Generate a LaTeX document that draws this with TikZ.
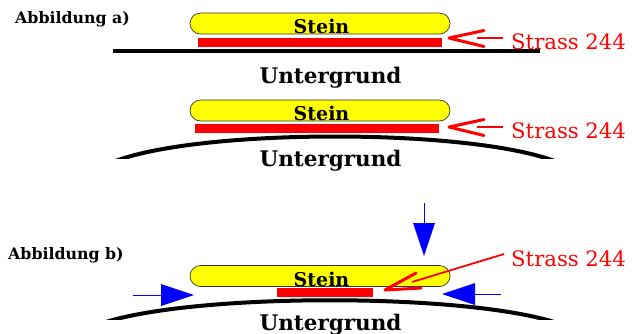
\documentclass[tikz,border=0pt]{standalone}
\usepackage{fontspec}
\setmainfont{DejaVu Serif}
\definecolor{pureyellow}{RGB}{255,255,0}
\definecolor{purered}{RGB}{255,0,0}
\definecolor{pureblue}{RGB}{0,0,255}
\begin{document}
\begin{tikzpicture}[x=1pt,y=-1pt,
  stone/.style={draw=black!80,line width=0.7pt,fill=pureyellow,rounded corners=10.5pt,minimum width=260pt,minimum height=21pt,inner sep=0pt,outer sep=0pt},
  strassbar/.style={fill=purered,inner sep=0pt,outer sep=0pt,minimum height=9pt},
  steintext/.style={font=\bfseries\fontsize{19}{19}\selectfont,inner sep=0pt,anchor=base},
  ground/.style={font=\bfseries\fontsize{21.5}{21.5}\selectfont,inner sep=0pt,anchor=base},
  figlabel/.style={font=\bfseries\fontsize{15.8}{15.8}\selectfont,inner sep=0pt,anchor=base west},
  strasslabel/.style={font=\fontsize{21.2}{21.2}\selectfont,text=purered,inner sep=0pt,anchor=base west},
  earth/.style={draw=black,line width=4pt},
  pointer/.style={draw=purered,line width=3pt,line cap=round,line join=round},
  thin red/.style={draw=purered,line width=1.8pt},
  force/.style={fill=pureblue,draw=none},
  forceline/.style={draw=pureblue,line width=0.8pt}]
\useasboundingbox (0,0) rectangle (642,333);
% a) flat
\node[figlabel] (la) at (15,23) {Abbildung a)};
\draw[earth] (113,51) coordinate (ga) -- (540,51) coordinate (gb);
\node[stone] (s1) at (320,23.5) {};
\node[strassbar,minimum width=244pt] (r1) at (320,42.5) {};
\node[steintext] (t1) at (321.5,33) {Stein};
\node[ground] (u1) at (330.5,83) {Untergrund};
\node[strasslabel] (l1) at (511,49) {Strass 244};
\coordinate (tip1) at (449,38);
\coordinate (a1) at (484,30.5);
\coordinate (b1) at (484,46.5);
\coordinate (c1) at (477,38);
\coordinate (d1) at (503,38);
\draw[pointer] (a1) -- (tip1) -- (b1);
\draw[thin red] (c1) -- (d1);
% a) curved
\begin{scope}
\clip (90,120) rectangle (580,158);
\draw[earth] (106,165) .. controls (185,127) and (485,127) .. (564,165);
\end{scope}
\node[stone] (s2) at (320,110.5) {};
\node[strassbar,minimum width=244pt] (r2) at (317,128.5) {};
\node[steintext] (t2) at (321.5,120) {Stein};
\node[ground] (u2) at (330.5,166) {Untergrund};
\node[strasslabel] (l2) at (511,138.5) {Strass 244};
\coordinate (tip2) at (449,127);
\coordinate (a2) at (484,119.5);
\coordinate (b2) at (484,135.5);
\coordinate (c2) at (477,127);
\coordinate (d2) at (503,127);
\draw[pointer] (a2) -- (tip2) -- (b2);
\draw[thin red] (c2) -- (d2);
% b)
\node[figlabel] (lb) at (8,259.5) {Abbildung b)};
\begin{scope}
\clip (90,280) rectangle (580,319);
\draw[earth] (97,325) .. controls (185,292) and (475,292) .. (563,325);
\end{scope}
\node[stone] (s3) at (320,276) {};
\node[strassbar,minimum width=96pt] (r3) at (325,292.5) {};
\node[steintext] (t3) at (321.5,286) {Stein};
\node[ground] (u3) at (330.5,330) {Untergrund};
\node[strasslabel] (l3) at (511,266.5) {Strass 244};
\coordinate (tip3) at (385,290);
\coordinate (a3) at (416,273);
\coordinate (b3) at (421,288);
\coordinate (c3) at (412,282);
\coordinate (d3) at (504,254);
\draw[pointer] (a3) -- (tip3) -- (b3);
\draw[thin red] (c3) -- (d3);
% forces
\draw[forceline] (424,203) coordinate (f1) -- (424,223) coordinate (f2);
\fill[force] (413,223) -- (435,223) -- (424,256) -- cycle;
\draw[forceline] (133,295) coordinate (f3) -- (161,295) coordinate (f4);
\fill[force] (161,284) -- (161,306) -- (194,295) -- cycle;
\draw[forceline] (501,294) coordinate (f5) -- (475,294) coordinate (f6);
\fill[force] (475,283) -- (475,305) -- (442,294) -- cycle;
\end{tikzpicture}
\end{document}
